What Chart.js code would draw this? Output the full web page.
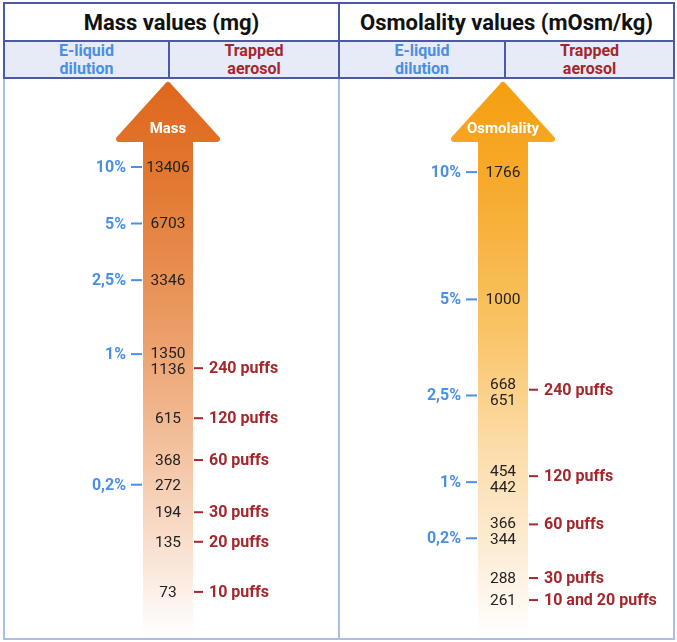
<!DOCTYPE html>
<html>
<head>
<meta charset="utf-8">
<script src="https://cdn.jsdelivr.net/npm/chart.js@4/dist/chart.umd.min.js"></script>
<style>
  body { margin: 0; background: #fff; font-family: Roboto, "Noto Sans", sans-serif; }
  #wrap { position: relative; width: 677px; height: 642px; }
  .box { position: absolute; box-sizing: border-box; }
  .title { background: #fff; border: 2px solid #4b5aa5; font-weight: bold; font-size: 22px;
           color: #111; display: flex; align-items: center; justify-content: center; }
  .sub { background: #e7ebf8; border: 2px solid #4b5aa5; font-weight: bold;
         font-size: 16px; line-height: 18px; display: flex; align-items: center;
         justify-content: center; text-align: center; }
  .blue { color: #4a8fe6; }
  .red { color: #a5272b; }
  .panel { border: 2px solid #a9bfe8; background: #fff; }
  canvas { position: absolute; }
</style>
</head>
<body>
<div id="wrap">
  <div class="box panel" style="left:3px; top:77px; width:337px; height:563px;"></div>
  <div class="box panel" style="left:338px; top:77px; width:337px; height:563px;"></div>

  <div class="box title" style="left:3px; top:2px; width:337px; height:40px;">Mass values (mg)</div>
  <div class="box title" style="left:338px; top:2px; width:337px; height:40px;">Osmolality values (mOsm/kg)</div>

  <div class="box sub blue" style="left:3px; top:40px; width:167px; height:39px;">E-liquid<br>dilution</div>
  <div class="box sub red" style="left:168px; top:40px; width:172px; height:39px;">Trapped<br>aerosol</div>
  <div class="box sub blue" style="left:338px; top:40px; width:168px; height:39px;">E-liquid<br>dilution</div>
  <div class="box sub red" style="left:504px; top:40px; width:171px; height:39px;">Trapped<br>aerosol</div>

  <canvas id="massChart" width="328" height="556" style="left:4px; top:80px;"></canvas>
  <canvas id="osmChart" width="324" height="556" style="left:341px; top:80px;"></canvas>
</div>

<script>
// Mass values (mg), top to bottom
const massValues = [13406, 6703, 3346, 1350, 1136, 615, 368, 272, 194, 135, 73];
const massDilution = ["10%", "5%", "2,5%", "1%", "", "", "", "0,2%", "", "", ""];
const massAerosol = ["", "", "", "", "240 puffs", "120 puffs", "60 puffs", "", "30 puffs", "20 puffs", "10 puffs"];

// Osmolality values (mOsm/kg), top to bottom
const osmValues = [1766, 1000, 668, 651, 454, 442, 366, 344, 288, 261];
const osmDilution = ["10%", "5%", "", "2,5%", "", "1%", "", "0,2%", "", ""];
const osmAerosol = ["", "", "240 puffs", "", "120 puffs", "", "60 puffs", "", "30 puffs", "10 and 20 puffs"];

const BLUE = "#4a8fe6";
const RED = "#a5272b";

// draws the big arrow behind the points
const arrowPlugin = {
  id: "arrow",
  beforeDatasetsDraw(chart, args, opts) {
    const ctx = chart.ctx;
    const area = chart.chartArea;
    const cx = chart.scales.x.getPixelForValue(0);
    const top = area.top + 5;
    const headBottom = area.top + 59;
    const bottom = area.bottom - 3;

    const grad = ctx.createLinearGradient(0, area.top, 0, area.bottom);
    opts.stops.forEach(function (s) {
      grad.addColorStop(s[0], s[1]);
    });

    ctx.save();
    ctx.beginPath();
    ctx.moveTo(cx, top);
    ctx.lineTo(cx + 49, headBottom);
    ctx.lineTo(cx + 22, headBottom);
    ctx.lineTo(cx + 22, bottom);
    ctx.lineTo(cx - 22, bottom);
    ctx.lineTo(cx - 22, headBottom);
    ctx.lineTo(cx - 49, headBottom);
    ctx.closePath();
    ctx.fillStyle = grad;
    ctx.fill();
    ctx.strokeStyle = grad;
    ctx.lineWidth = 6;
    ctx.lineJoin = "round";
    ctx.stroke();

    ctx.fillStyle = "#fff";
    ctx.font = "bold 15px Roboto";
    ctx.textAlign = "center";
    ctx.textBaseline = "middle";
    ctx.fillText(opts.title, cx, area.top + 49);
    ctx.restore();
  },
};

// value labels on the arrow, with the dilution / aerosol markers on each side
const labelPlugin = {
  id: "labels",
  afterDatasetsDraw(chart, args, opts) {
    const ctx = chart.ctx;
    const cx = chart.scales.x.getPixelForValue(0);
    const points = chart.getDatasetMeta(0).data;
    const values = chart.data.datasets[0].data.map(function (d) {
      return d.y;
    });

    // true positions for the ticks, spread-apart positions for the numbers
    const ys = points.map(function (p) {
      return p.y;
    });
    const ly = ys.slice();
    const gap = 16;
    for (let i = 1; i < ly.length; i++) {
      if (ly[i] - ly[i - 1] < gap) {
        const mid = (ly[i] + ly[i - 1]) / 2;
        ly[i - 1] = mid - gap / 2;
        ly[i] = mid + gap / 2;
      }
    }

    ctx.save();
    ctx.textBaseline = "middle";
    ctx.lineWidth = 2;
    for (let i = 0; i < values.length; i++) {
      ctx.font = "15.5px Roboto";
      ctx.fillStyle = "#222";
      ctx.textAlign = "center";
      ctx.fillText(String(values[i]), cx, ly[i] + 1);

      if (opts.left[i]) {
        ctx.strokeStyle = BLUE;
        ctx.beginPath();
        ctx.moveTo(cx - 37, ys[i]);
        ctx.lineTo(cx - 26, ys[i]);
        ctx.stroke();
        ctx.font = "bold 16px Roboto";
        ctx.fillStyle = BLUE;
        ctx.textAlign = "right";
        ctx.fillText(opts.left[i], cx - 42, ys[i] + 1);
      }
      if (opts.right[i]) {
        ctx.strokeStyle = RED;
        ctx.beginPath();
        ctx.moveTo(cx + 26, ys[i]);
        ctx.lineTo(cx + 35, ys[i]);
        ctx.stroke();
        ctx.font = "bold 16px Roboto";
        ctx.fillStyle = RED;
        ctx.textAlign = "left";
        ctx.fillText(opts.right[i], cx + 41, ys[i] + 1);
      }
    }
    ctx.restore();
  },
};

function makeChart(id, values, left, right, yMin, yMax, title, stops) {
  return new Chart(document.getElementById(id), {
    type: "scatter",
    data: {
      datasets: [
        {
          data: values.map(function (v) {
            return { x: 0, y: v };
          }),
          pointRadius: 0,
        },
      ],
    },
    options: {
      responsive: false,
      animation: false,
      devicePixelRatio: 1,
      layout: { padding: 0 },
      scales: {
        x: { type: "linear", min: -1, max: 1, display: false },
        y: { type: "logarithmic", min: yMin, max: yMax, display: false },
      },
      plugins: {
        legend: { display: false },
        tooltip: { enabled: false },
        arrow: { title: title, stops: stops },
        labels: { left: left, right: right },
      },
    },
    plugins: [arrowPlugin, labelPlugin],
  });
}

makeChart("massChart", massValues, massDilution, massAerosol, 42.5, 38990, "Mass", [
  [0, "#df661b"],
  [0.2, "#e37a34"],
  [0.45, "#eb9d67"],
  [0.65, "#f3bf9b"],
  [0.85, "#fae2d2"],
  [1, "#ffffff"],
]);

makeChart("osmChart", osmValues, osmDilution, osmAerosol, 222.3, 2665, "Osmolality", [
  [0, "#f59f10"],
  [0.2, "#f7ab2e"],
  [0.45, "#f9c466"],
  [0.65, "#fcdba6"],
  [0.85, "#fdedd6"],
  [1, "#ffffff"],
]);
</script>
</body>
</html>
